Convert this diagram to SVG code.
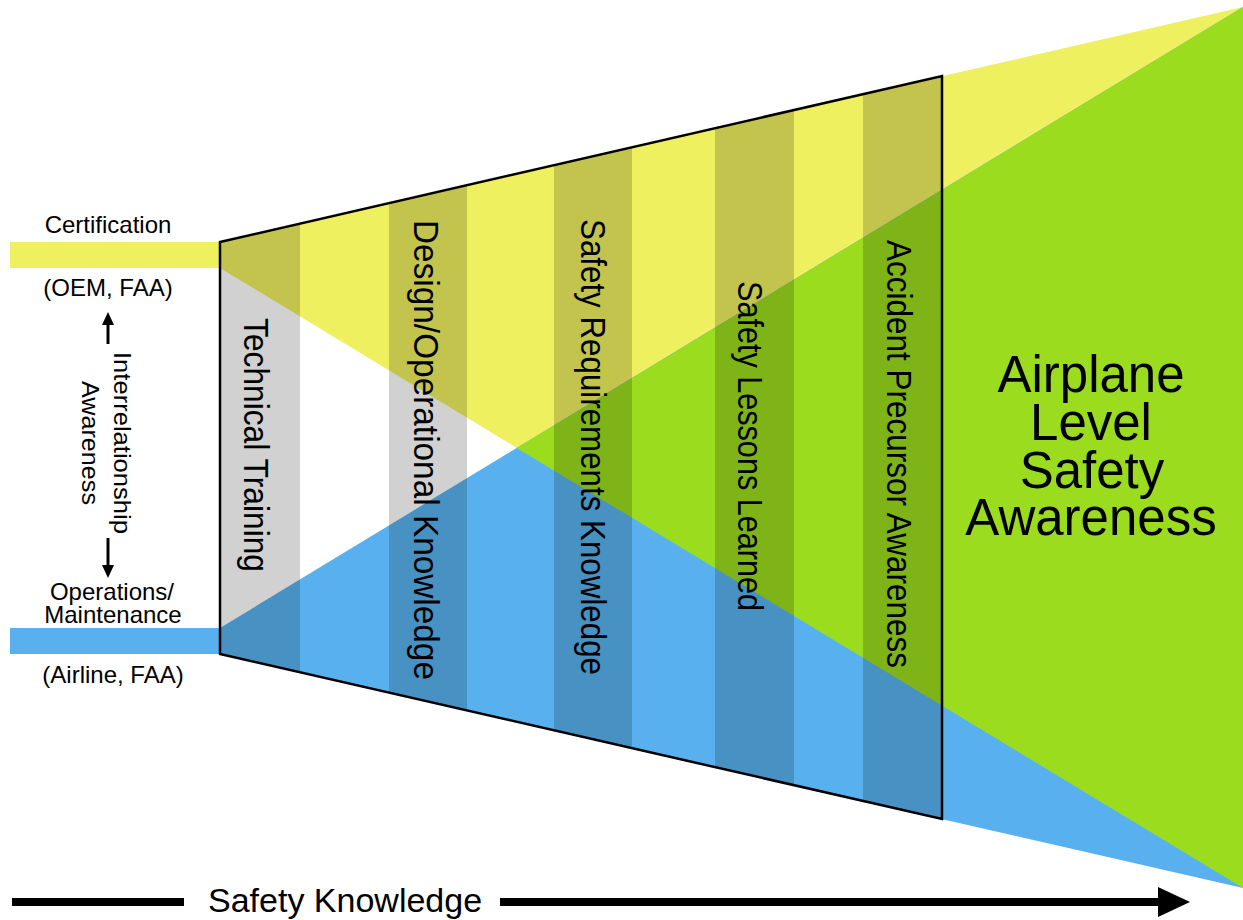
<svg xmlns="http://www.w3.org/2000/svg" width="1243" height="920" viewBox="0 0 1243 920">
  <style>
    .lbl { font-family: "Liberation Sans", Arial, sans-serif; fill: #000; }
    .left { font-size: 24px; text-anchor: middle; }
    .band { font-size: 35px; text-anchor: middle; }
    .big { font-size: 51px; text-anchor: middle; }
    .stripe { fill: #000; fill-opacity: 0.18; }
  </style>
  <defs>
    <clipPath id="frameClip">
      <polygon points="220,242 942,76 942,819 220,654"/>
    </clipPath>
  </defs>
  <rect x="0" y="0" width="1243" height="920" fill="#ffffff"/>

  <g id="fields">
    <rect id="cert-bar" x="10" y="242" width="211" height="26" fill="#EEF05F"/>
    <rect id="ops-bar" x="10" y="628" width="211" height="26" fill="#58B1EE"/>
    <polygon id="yellow-wedge" points="220,242 1243,7 1243,888 220,268" fill="#EEF05F"/>
    <polygon id="blue-wedge" points="220,628 1243,7 1243,888 220,654" fill="#58B1EE"/>
    <polygon id="green-overlap" points="516.8,448 1243,7 1243,888" fill="#9CDC1E"/>
  </g>

  <g id="stripes" clip-path="url(#frameClip)">
    <rect class="stripe" x="220" y="60" width="80" height="780"/>
    <rect class="stripe" x="389" y="60" width="78" height="780"/>
    <rect class="stripe" x="554" y="60" width="78" height="780"/>
    <rect class="stripe" x="715" y="60" width="79" height="780"/>
    <rect class="stripe" x="863" y="60" width="79" height="780"/>
  </g>

  <g id="frame">
    <polygon points="220,242 942,76 942,819 220,654" fill="none" stroke="#000" stroke-width="2.5" stroke-linejoin="miter"/>
  </g>

  <g id="node-technical-training">
    <text class="lbl band" transform="translate(244,445) rotate(90)" textLength="254" lengthAdjust="spacingAndGlyphs">Technical Training</text>
  </g>
  <g id="node-design-operational">
    <text class="lbl band" transform="translate(414,450) rotate(90)" textLength="460" lengthAdjust="spacingAndGlyphs">Design/Operational Knowledge</text>
  </g>
  <g id="node-safety-requirements">
    <text class="lbl band" transform="translate(581,447) rotate(90)" textLength="456" lengthAdjust="spacingAndGlyphs">Safety Requirements Knowledge</text>
  </g>
  <g id="node-safety-lessons">
    <text class="lbl band" transform="translate(738,446) rotate(90)" textLength="330" lengthAdjust="spacingAndGlyphs">Safety Lessons Learned</text>
  </g>
  <g id="node-accident-precursor">
    <text class="lbl band" transform="translate(887,454) rotate(90)" textLength="428" lengthAdjust="spacingAndGlyphs">Accident Precursor Awareness</text>
  </g>

  <g id="node-airplane-level">
    <text class="lbl big" x="1091" y="392">Airplane</text>
    <text class="lbl big" x="1091" y="440">Level</text>
    <text class="lbl big" x="1092" y="488">Safety</text>
    <text class="lbl big" x="1091" y="535">Awareness</text>
  </g>

  <g id="node-certification">
    <text class="lbl left" x="108" y="233">Certification</text>
    <text class="lbl left" x="108" y="296">(OEM, FAA)</text>
  </g>
  <g id="node-operations">
    <text class="lbl left" x="112" y="600">Operations/</text>
    <text class="lbl left" x="113" y="623">Maintenance</text>
    <text class="lbl left" x="113" y="683">(Airline, FAA)</text>
  </g>
  <g id="node-interrelationship">
    <text class="lbl left" transform="translate(114,443) rotate(90)" font-size="25" textLength="182" lengthAdjust="spacingAndGlyphs">Interrelationship</text>
    <text class="lbl left" transform="translate(82,443) rotate(90)" font-size="25" textLength="124" lengthAdjust="spacingAndGlyphs">Awareness</text>
  </g>

  <g id="connectors">
    <line x1="108" y1="344" x2="108" y2="322" stroke="#000" stroke-width="3"/>
    <polygon points="102,325 108,312 114,325" fill="#000"/>
    <line x1="108" y1="538" x2="108" y2="568" stroke="#000" stroke-width="3"/>
    <polygon points="102,565 108,578 114,565" fill="#000"/>
    <rect x="12" y="898" width="172" height="8" fill="#000"/>
    <rect x="500" y="898" width="660" height="8" fill="#000"/>
    <polygon points="1158,887 1190,902 1158,917" fill="#000"/>
  </g>
  <g id="node-safety-knowledge">
    <text class="lbl" x="208" y="912" font-size="34">Safety Knowledge</text>
  </g>
</svg>
